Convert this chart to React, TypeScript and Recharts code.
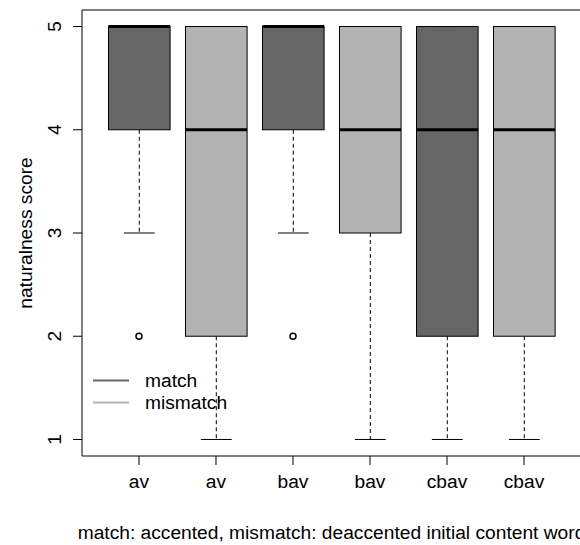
import React from 'react';
import { ComposedChart, Bar, Scatter, XAxis, YAxis, ReferenceLine } from 'recharts';

// one box per condition
const categories = ['av', 'av', 'bav', 'bav', 'cbav', 'cbav'];
const groups = ['match', 'mismatch', 'match', 'mismatch', 'match', 'mismatch'];
const whiskerLow = [3, 1, 3, 1, 1, 1];
const lowerQuartile = [4, 2, 4, 3, 2, 2];
const medians = [5, 4, 5, 4, 4, 4];
const upperQuartile = [5, 5, 5, 5, 5, 5];
const whiskerHigh = [5, 5, 5, 5, 5, 5];
const outliers = [[2], [], [2], [], [], []];

const yTicks = [1, 2, 3, 4, 5];
const legendLabels = ['match', 'mismatch'];
const caption = 'match: accented, mismatch: deaccented initial content word';
const yTitle = 'naturalness score';

const groupColor: Record<string, string> = { match: '#666666', mismatch: '#b3b3b3' };
const FONT = '"Liberation Sans", Arial, Helvetica, sans-serif';
const FS = 19.2;

const boxes = categories.map((cat, i) => ({
  pos: i + 1,
  cat,
  group: groups[i],
  lo: whiskerLow[i],
  q1: lowerQuartile[i],
  med: medians[i],
  q3: upperQuartile[i],
  hi: whiskerHigh[i],
}));

const outlierPoints = outliers.flatMap((vals, i) => vals.map((v) => ({ pos: i + 1, value: v })));

function BoxShape(props: any) {
  const { x, y, width, height, payload } = props;
  const top = Math.min(y, y + height);
  const bottom = Math.max(y, y + height);
  const py = (v: number) => top + ((payload.hi - v) / (payload.hi - payload.lo)) * (bottom - top);
  const cx = x + width / 2;
  const cap = width / 4;
  const fill = groupColor[payload.group];
  return (
    <g>
      <line x1={cx} x2={cx} y1={py(payload.q1)} y2={py(payload.lo)} stroke="#000" strokeDasharray="4 3" />
      <line x1={cx} x2={cx} y1={py(payload.q3)} y2={py(payload.hi)} stroke="#000" strokeDasharray="4 3" />
      <line x1={cx - cap} x2={cx + cap} y1={py(payload.lo)} y2={py(payload.lo)} stroke="#000" />
      <line x1={cx - cap} x2={cx + cap} y1={py(payload.hi)} y2={py(payload.hi)} stroke="#000" />
      <rect
        x={x}
        y={py(payload.q3)}
        width={width}
        height={py(payload.q1) - py(payload.q3)}
        fill={fill}
        stroke="#000"
        strokeWidth={1}
      />
      <line x1={x} x2={x + width} y1={py(payload.med)} y2={py(payload.med)} stroke="#000" strokeWidth={3} />
    </g>
  );
}

function OutlierDot(props: any) {
  const { cx, cy } = props;
  return <circle cx={cx} cy={cy} r={3} fill="none" stroke="#000" strokeWidth={1.5} />;
}

function XTick(props: any) {
  const { x, y, payload } = props;
  return (
    <text x={x} y={y + 23} textAnchor="middle" fontFamily={FONT} fontSize={FS} fill="#000">
      {categories[payload.value - 1]}
    </text>
  );
}

function YTick(props: any) {
  const { x, y, payload } = props;
  const bx = x - 12;
  return (
    <text
      x={bx}
      y={y}
      transform={`rotate(-90, ${bx}, ${y})`}
      textAnchor="middle"
      fontFamily={FONT}
      fontSize={FS}
      fill="#000"
    >
      {payload.value}
    </text>
  );
}

function LegendBox() {
  return (
    <svg width={150} height={50} style={{ display: 'block' }}>
      {legendLabels.map((label, i) => (
        <g key={label}>
          <line x1={5} x2={41} y1={12.5 + i * 22} y2={12.5 + i * 22} stroke={groupColor[label]} strokeWidth={2} />
          <text x={57} y={18.5 + i * 22} fontFamily={FONT} fontSize={FS} fill="#000">
            {label}
          </text>
        </g>
      ))}
    </svg>
  );
}

export default function App() {
  return (
    <div
      style={{
        position: 'absolute',
        left: 0,
        top: 0,
        width: 580,
        height: 545,
        overflow: 'hidden',
        background: '#fff',
      }}
    >
      <ComposedChart
        width={582}
        height={545}
        data={boxes}
        margin={{ top: 10, right: 1, bottom: 0, left: 0 }}
      >
        <XAxis
          dataKey="pos"
          type="number"
          domain={[0.26, 6.74]}
          allowDataOverflow
          ticks={[1, 2, 3, 4, 5, 6]}
          tick={<XTick />}
          tickSize={9}
          tickMargin={0}
          height={89}
          stroke="#000"
          tickLine={{ stroke: '#000' }}
          label={(p: any) => {
            const vb = p.viewBox;
            return (
              <text
                x={vb.x + vb.width / 2}
                y={vb.y + 83}
                textAnchor="middle"
                fontFamily={FONT}
                fontSize={FS}
                fill="#000"
              >
                {caption}
              </text>
            );
          }}
        />
        <YAxis
          type="number"
          domain={[0.84, 5.16]}
          allowDataOverflow
          ticks={yTicks}
          tick={<YTick />}
          tickSize={9}
          tickMargin={0}
          width={82}
          stroke="#000"
          tickLine={{ stroke: '#000' }}
          label={(p: any) => {
            const vb = p.viewBox;
            const cy = vb.y + vb.height / 2;
            return (
              <text
                x={32}
                y={cy}
                transform={`rotate(-90, 32, ${cy})`}
                textAnchor="middle"
                fontFamily={FONT}
                fontSize={FS}
                fill="#000"
              >
                {yTitle}
              </text>
            );
          }}
        />
        <ReferenceLine y={5.16} stroke="#000" />
        <Bar
          dataKey={(d: any) => [d.lo, d.hi]}
          barSize={61.6}
          shape={<BoxShape />}
          isAnimationActive={false}
        />
        <Scatter data={outlierPoints} dataKey="value" shape={<OutlierDot />} isAnimationActive={false} />
      </ComposedChart>
      <div style={{ position: 'absolute', left: 88, top: 368 }}>
        <LegendBox />
      </div>
    </div>
  );
}
